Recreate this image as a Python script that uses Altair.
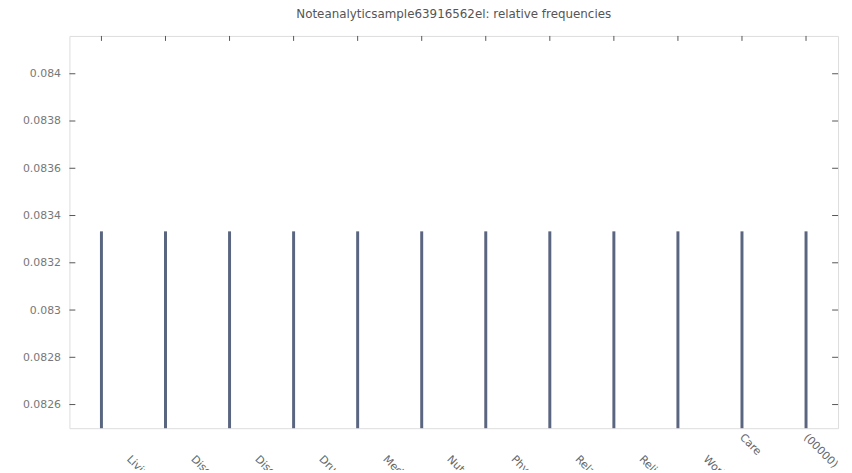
import altair as alt
import pandas as pd

TITLE = "Noteanalyticsample63916562el: relative frequencies"
CATS = ["Living arrangements", "Discharge summary", "Discharge planning", "Drug use",
        "Medications", "Nutrition", "Physical activity", "Relationships",
        "Religion", "Work", "Care", "(00000)"]
FREQS = [0.083333] * 12
Y_TICKS = [0.0826, 0.0828, 0.083, 0.0832, 0.0834, 0.0836, 0.0838, 0.084]
Y_MIN, Y_MAX = 0.0825, 0.08416
SHORT_LABELS = ["Care", "(00000)"]

W, H = 776, 396
BAR = "#5a6580"
TICK = "#555555"
FONT = "DejaVu Sans"

df = pd.DataFrame({"cat": CATS, "freq": FREQS})
ticks_df = pd.DataFrame({"v": Y_TICKS})

short_test = " || ".join(f"datum.value == '{s}'" for s in SHORT_LABELS)

X_AXIS = alt.Axis(
    title=None, labelAngle=45, labelAlign="left", labelBaseline="top",
    ticks=False, domain=False, labelOverlap=False, labelFlush=False,
    labelFontSize=11, labelColor="#666666", labelFont=FONT, labelLimit=400,
    labelPadding={"condition": {"test": short_test, "value": 3}, "value": 25},
    labelOffset={"condition": {"test": short_test, "value": 3}, "value": 31},
)
Y_AXIS = alt.Axis(
    title=None, values=Y_TICKS, format="~g", ticks=False, domain=False, grid=False,
    labelFontSize=11, labelColor="#777777", labelFont=FONT, labelPadding=9,
)
X = alt.X("cat:N", sort=CATS, scale=alt.Scale(type="point", padding=0.5), axis=X_AXIS)
Y_SCALE = alt.Scale(domain=[Y_MIN, Y_MAX], zero=False, nice=False)

bars = alt.Chart(df).mark_rule(strokeWidth=3, color=BAR).encode(
    x=X,
    y=alt.Y("freq:Q", scale=Y_SCALE, axis=Y_AXIS),
    y2=alt.datum(Y_MIN),
)

top_ticks = alt.Chart(df).mark_rule(strokeWidth=1, color=TICK).encode(
    x=X, y=alt.value(0), y2=alt.value(5)
)

left_ticks = alt.Chart(ticks_df).mark_rule(strokeWidth=1, color=TICK).encode(
    y=alt.Y("v:Q", scale=Y_SCALE, axis=Y_AXIS), x=alt.value(0), x2=alt.value(6)
)
right_ticks = alt.Chart(ticks_df).mark_rule(strokeWidth=1, color=TICK).encode(
    y=alt.Y("v:Q", scale=Y_SCALE, axis=Y_AXIS), x=alt.value(W - 6), x2=alt.value(W)
)

chart = alt.layer(bars, top_ticks, left_ticks, right_ticks).properties(
    width=W, height=H,
    title=alt.Title(TITLE, fontSize=12, color="#555555", fontWeight="normal",
                    font=FONT, offset=15, anchor="middle"),
    autosize="none",
    padding={"left": 62, "top": 26, "right": 6, "bottom": 40},
).configure_view(stroke="#888888", strokeWidth=2.5).configure(background="white")

chart.save("out.html", embed_options={"renderer": "svg", "actions": False})
